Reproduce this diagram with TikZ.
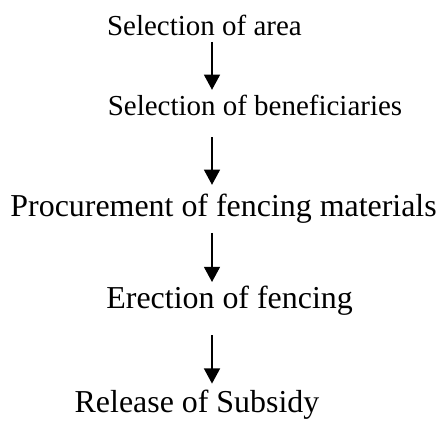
\documentclass[tikz,border=0pt]{standalone}
\usepackage{fontspec}
\setmainfont{Liberation Serif}
\usetikzlibrary{arrows.meta,calc}
\begin{document}
\begin{tikzpicture}[
    etape/.style={anchor=base, inner sep=0pt, font=\fontsize{20.6pt}{24pt}\selectfont},
    grande/.style={etape, font=\fontsize{22.7pt}{27pt}\selectfont},
    fleche/.style={line width=1.2pt, -{Triangle[width=0.4cm,length=0.38cm]}}
  ]
    \useasboundingbox (0,0) rectangle (11,10.5);

    % Les étapes, de haut en bas
    \node[etape] (zone) at (5.11,9.6) {Selection of area};
    \node[etape] (benef) at (6.375,7.625) {Selection of beneficiaries};
    \node[grande] (achat) at (5.59,5.1) {Procurement of fencing materials};
    \node[grande] (pose) at (5.74,2.8) {Erection of fencing};
    \node[grande] (subv) at (4.925,0.18) {Release of Subsidy};

    % Axe vertical des flèches
    \coordinate (axe) at (5.3,0);

    % Extrémités des flèches
    \coordinate (d1) at ($(zone.base -| axe)+(0,-0.15)$);
    \coordinate (f1) at ($(benef.base -| axe)+(0,0.63)$);
    \coordinate (d2) at ($(benef.base -| axe)+(0,-0.55)$);
    \coordinate (f2) at ($(achat.base -| axe)+(0,0.78)$);
    \coordinate (d3) at ($(achat.base -| axe)+(0,-0.42)$);
    \coordinate (f3) at ($(pose.base -| axe)+(0,0.65)$);
    \coordinate (d4) at ($(pose.base -| axe)+(0,-0.68)$);
    \coordinate (f4) at ($(subv.base -| axe)+(0,0.73)$);

    % Flèches entre les étapes
    \draw[fleche] (d1) -- (f1);
    \draw[fleche] (d2) -- (f2);
    \draw[fleche] (d3) -- (f3);
    \draw[fleche] (d4) -- (f4);
\end{tikzpicture}
\end{document}
